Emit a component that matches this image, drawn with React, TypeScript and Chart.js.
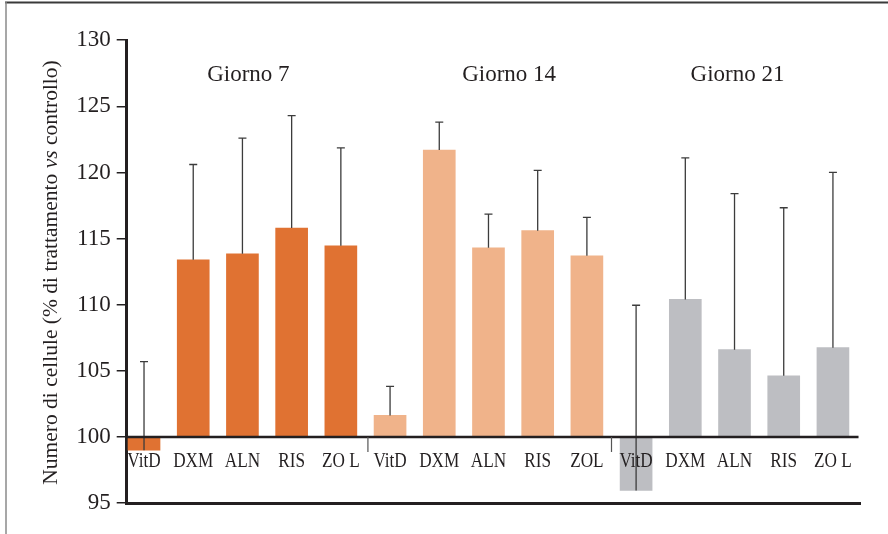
import React, { useEffect, useRef } from "react";
import { Chart, registerables } from "chart.js";

Chart.register(...registerables);

// ---- data ----
const categories = [
  "VitD", "DXM", "ALN", "RIS", "ZO L",
  "VitD", "DXM", "ALN", "RIS", "ZOL",
  "VitD", "DXM", "ALN", "RIS", "ZO L",
];
const groupTitles = ["Giorno 7", "Giorno 14", "Giorno 21"];
const giorno7 = [99.0, 113.4, 113.85, 115.8, 114.46];
const giorno7Err = [6.7, 7.2, 8.75, 8.5, 7.4];
const giorno14 = [101.63, 121.7, 114.3, 115.6, 113.7];
const giorno14Err = [2.2, 2.1, 2.55, 4.55, 2.9];
const giorno21 = [95.96, 110.4, 106.6, 104.63, 106.75];
const giorno21Err = [14.0, 10.7, 11.8, 12.7, 13.25];
const yTicks = [95, 100, 105, 110, 115, 120, 125, 130];
const baseline = 100;
const yTitleA = "Numero di cellule (% di trattamento ";
const yTitleB = "vs";
const yTitleC = " controllo)";

const SERIF = "'Liberation Serif', 'Times New Roman', serif";
const INK = "#231f20";
const COLORS = ["#e07232", "#f0b38a", "#bdbec2"];

const groups = [
  { values: giorno7, errs: giorno7Err },
  { values: giorno14, errs: giorno14Err },
  { values: giorno21, errs: giorno21Err },
];

const decor = {
  id: "decor",
  beforeDraw(chart: any) {
    const { ctx, width, height } = chart;
    ctx.save();
    ctx.fillStyle = "#ffffff";
    ctx.fillRect(0, 0, width, height);
    ctx.strokeStyle = "#3a3a3a";
    ctx.lineWidth = 2;
    ctx.beginPath();
    ctx.moveTo(5, 2.5);
    ctx.lineTo(width, 2.5);
    ctx.stroke();
    ctx.strokeStyle = "#8a8a8a";
    ctx.lineWidth = 1.5;
    ctx.beginPath();
    ctx.moveTo(6, 2);
    ctx.lineTo(6, height);
    ctx.stroke();
    ctx.restore();
  },
  afterDatasetsDraw(chart: any) {
    const { ctx, chartArea } = chart;
    const xs = chart.scales.x;
    const ys = chart.scales.y;
    const y100 = ys.getPixelForValue(baseline);
    ctx.save();

    // error bars
    ctx.strokeStyle = "#3c3c3c";
    ctx.lineWidth = 1.3;
    groups.forEach((g, gi) => {
      const meta = chart.getDatasetMeta(gi);
      meta.data.forEach((el: any, i: number) => {
        const v = g.values[i];
        const top = ys.getPixelForValue(v + g.errs[i]);
        const yv = ys.getPixelForValue(v);
        ctx.beginPath();
        ctx.moveTo(el.x, yv);
        ctx.lineTo(el.x, top);
        ctx.moveTo(el.x - 4, top);
        ctx.lineTo(el.x + 4, top);
        ctx.stroke();
      });
    });

    // baseline at 100
    ctx.strokeStyle = INK;
    ctx.lineWidth = 2.5;
    ctx.beginPath();
    ctx.moveTo(chartArea.left, y100);
    ctx.lineTo(xs.getPixelForValue(14.52), y100);
    ctx.stroke();

    // group separators
    ctx.strokeStyle = "#555";
    ctx.lineWidth = 1.2;
    [4.55, 9.5].forEach((p) => {
      const x = xs.getPixelForValue(p);
      ctx.beginPath();
      ctx.moveTo(x, y100);
      ctx.lineTo(x, y100 + 15);
      ctx.stroke();
    });

    // category labels
    ctx.fillStyle = INK;
    ctx.font = `20px ${SERIF}`;
    ctx.textAlign = "center";
    ctx.textBaseline = "alphabetic";
    categories.forEach((lab, i) => {
      const x = xs.getPixelForValue(i);
      ctx.save();
      ctx.translate(x, y100 + 30);
      ctx.scale(0.86, 1);
      ctx.fillText(lab, 0, 0);
      ctx.restore();
    });

    // group titles
    ctx.font = `23px ${SERIF}`;
    [2.12, 7.42, 12.06].forEach((p, gi) => {
      ctx.fillText(groupTitles[gi], xs.getPixelForValue(p), 81);
    });

    // y axis title (rotated, with italic "vs")
    const fN = `21.5px ${SERIF}`;
    const fI = `italic 21.5px ${SERIF}`;
    ctx.font = fN;
    const wA = ctx.measureText(yTitleA).width;
    const wC = ctx.measureText(yTitleC).width;
    ctx.font = fI;
    const wB = ctx.measureText(yTitleB).width;
    const total = wA + wB + wC;
    ctx.translate(51, 272.5);
    ctx.rotate(-Math.PI / 2);
    ctx.textAlign = "left";
    ctx.textBaseline = "middle";
    let cx = -total / 2;
    ctx.font = fN;
    ctx.fillText(yTitleA, cx, 0);
    cx += wA;
    ctx.font = fI;
    ctx.fillText(yTitleB, cx, 0);
    cx += wB;
    ctx.font = fN;
    ctx.fillText(yTitleC, cx, 0);

    ctx.restore();
  },
};

export default function App() {
  const ref = useRef<HTMLCanvasElement>(null);
  useEffect(() => {
    if (!ref.current) return;
    let offset = 0;
    const datasets = groups.map((g, gi) => {
      const data = g.values.map((v, i) => ({ x: offset + i, y: v }));
      offset += g.values.length;
      return {
        label: groupTitles[gi],
        data,
        base: baseline,
        backgroundColor: COLORS[gi],
        borderWidth: 0,
        barThickness: 32,
        grouped: false,
      };
    });
    const chart = new Chart(ref.current, {
      type: "bar",
      data: { datasets } as any,
      options: {
        animation: false,
        responsive: false,
        devicePixelRatio: 1,
        layout: { padding: { left: 0, right: 28, top: 40.2, bottom: 30.9 } },
        plugins: { legend: { display: false }, tooltip: { enabled: false } },
        scales: {
          x: {
            type: "linear",
            offset: false,
            min: -0.352,
            max: 14.55,
            grid: { display: false, drawTicks: false },
            ticks: { display: false },
            border: { display: true, width: 3, color: INK },
          },
          y: {
            min: 95,
            max: 130,
            afterBuildTicks: (s: any) => {
              s.ticks = yTicks.map((v) => ({ value: v }));
            },
            afterFit: (s: any) => {
              s.width = 126.7;
            },
            grid: {
              drawOnChartArea: false,
              drawTicks: true,
              tickLength: 10,
              color: INK,
              lineWidth: 1.5,
            },
            border: { display: true, width: 3, color: INK },
            ticks: {
              color: INK,
              padding: 6,
              font: { family: SERIF, size: 23 },
            },
          },
        },
      } as any,
      plugins: [decor],
    });
    return () => chart.destroy();
  }, []);
  return (
    <div style={{ position: "absolute", left: 0, top: 0, width: 888, height: 534 }}>
      <canvas ref={ref} width={888} height={534} style={{ display: "block" }} />
    </div>
  );
}
